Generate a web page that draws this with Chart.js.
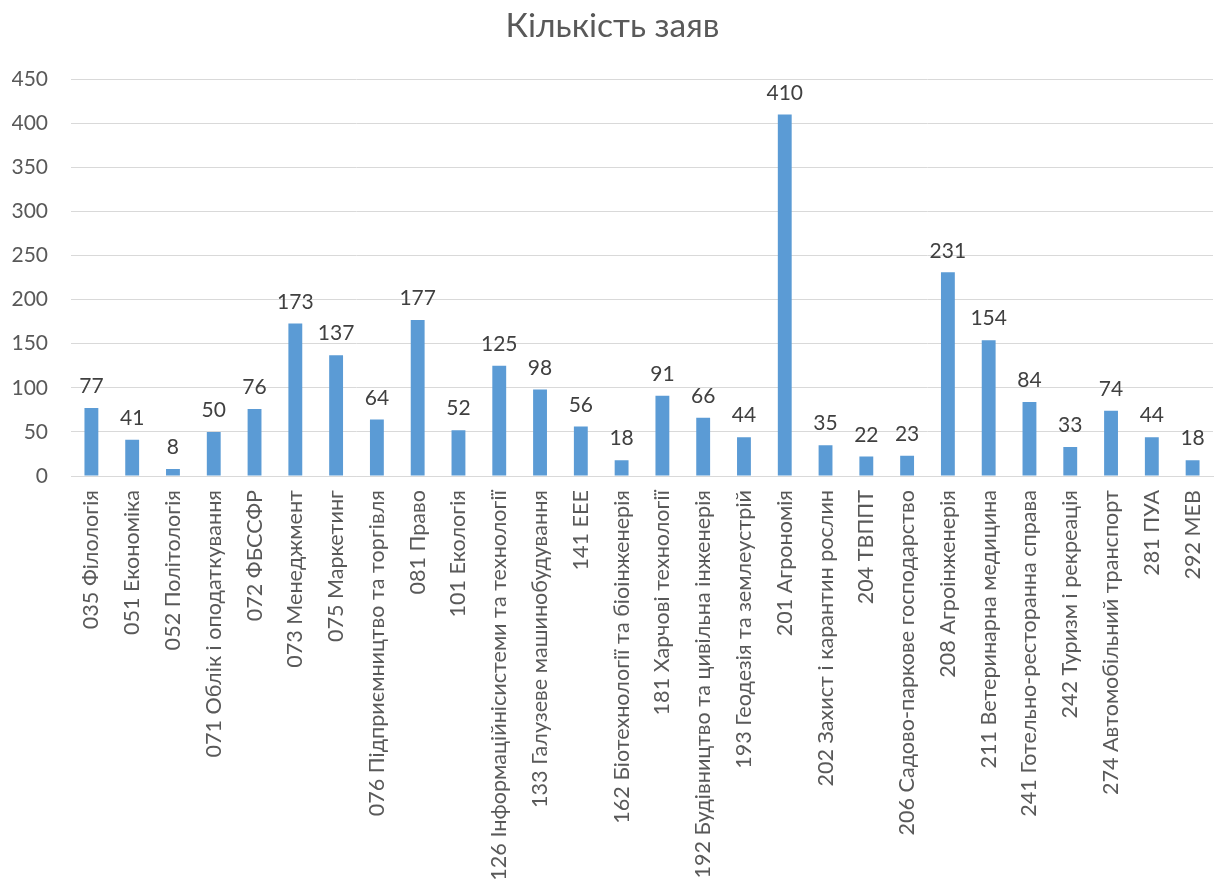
<!DOCTYPE html>
<html>
<head>
<meta charset="utf-8">
<script src="https://cdn.jsdelivr.net/npm/chart.js@4/dist/chart.umd.min.js"></script>
<style>
  html, body { margin: 0; padding: 0; background: #fff; }
  #wrap { width: 1216px; height: 888px; }
</style>
</head>
<body>
<div id="wrap"><canvas id="myChart" width="1216" height="888"></canvas></div>
<script>
// data
const specialties = [
  "035 Філологія", "051 Економіка", "052 Політологія", "071 Облік і оподаткування",
  "072 ФБССФР", "073 Менеджмент", "075 Маркетинг", "076 Підприємництво та торгівля",
  "081 Право", "101 Екологія", "126 Інформаційнісистеми та технології",
  "133 Галузеве машинобудування", "141 ЕЕЕ", "162 Біотехнології та біоінженерія",
  "181 Харчові технології", "192 Будівництво та цивільна інженерія",
  "193 Геодезія та землеустрій", "201 Агрономія", "202 Захист і карантин рослин",
  "204 ТВППТ", "206 Садово-паркове господарство", "208 Агроінженерія",
  "211 Ветеринарна медицина", "241 Готельно-ресторанна справа",
  "242 Туризм і рекреація", "274 Автомобільний транспорт", "281 ПУА", "292 МЕВ"
];
const applications = [77, 41, 8, 50, 76, 173, 137, 64, 177, 52, 125, 98, 56, 18,
  91, 66, 44, 410, 35, 22, 23, 231, 154, 84, 33, 74, 44, 18];
const yTicks = [0, 50, 100, 150, 200, 250, 300, 350, 400, 450];

const fontName = "Lato, 'Open Sans', sans-serif";

// values above the bars
const valueLabels = {
  id: 'valueLabels',
  afterDatasetsDraw(chart) {
    const ctx = chart.ctx;
    const meta = chart.getDatasetMeta(0);
    ctx.save();
    ctx.font = "21px " + fontName;
    ctx.fillStyle = '#404040';
    ctx.textAlign = 'center';
    ctx.textBaseline = 'bottom';
    meta.data.forEach(function (bar, i) {
      ctx.fillText(applications[i], bar.x, bar.y - 11);
    });
    ctx.restore();
  }
};

var ctx = document.getElementById('myChart').getContext('2d');
var myChart = new Chart(ctx, {
  type: 'bar',
  data: {
    labels: specialties,
    datasets: [{
      label: "Кількість заяв",
      data: applications,
      backgroundColor: '#5b9bd5',
      borderWidth: 0,
      barPercentage: 0.68,
      categoryPercentage: 0.5
    }]
  },
  plugins: [valueLabels],
  options: {
    responsive: false,
    animation: false,
    layout: { padding: { left: 12, right: 3, top: 4, bottom: 8 } },
    plugins: {
      legend: { display: false },
      tooltip: { enabled: false },
      title: {
        display: true,
        text: "Кількість заяв",
        color: '#595959',
        font: { family: fontName, size: 33.5, weight: 'normal' },
        padding: { top: 2, bottom: 33 }
      }
    },
    scales: {
      x: {
        grid: { display: false, drawTicks: false },
        border: { color: '#d9d9d9' },
        afterFit(scale) { scale.paddingLeft = 0; scale.paddingRight = 0; scale.height = 404; },
        ticks: {
          autoSkip: false,
          maxRotation: 90,
          minRotation: 90,
          padding: 14,
          color: '#595959',
          font: { family: fontName, size: 21.6 }
        }
      },
      y: {
        min: 0,
        max: 450,
        afterBuildTicks(axis) { axis.ticks = yTicks.map(v => ({ value: v })); },
        afterFit(scale) { scale.width = 59; },
        grid: { color: '#d9d9d9', drawTicks: false },
        border: { display: false },
        ticks: {
          padding: 23,
          color: '#595959',
          font: { family: fontName, size: 21 }
        }
      }
    }
  }
});
</script>
</body>
</html>
